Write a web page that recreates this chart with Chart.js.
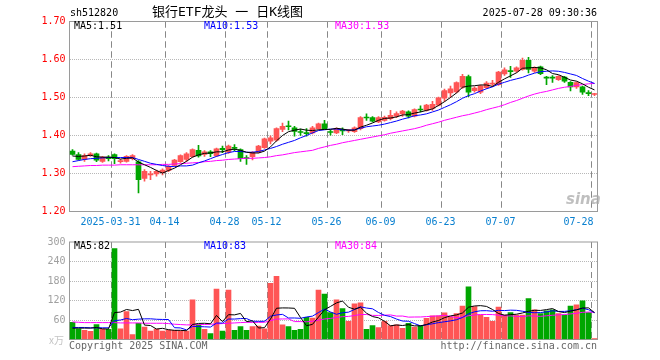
<!DOCTYPE html>
<html><head><meta charset="utf-8">
<script src="https://cdn.jsdelivr.net/npm/chart.js@4.4.1/dist/chart.umd.min.js"></script>
<style>
html,body{margin:0;padding:0;background:#fff;}
#wrap{position:relative;width:660px;height:360px;overflow:hidden;background:#fff;}
.t{position:absolute;white-space:pre;font-family:'DejaVu Sans Mono',monospace;font-size:10px;line-height:10px;}
#pc{position:absolute;left:0;top:0;width:660px;height:232px;}
#vc{position:absolute;left:0;top:232px;width:660px;height:128px;}
</style></head><body>
<div id="wrap">
<canvas id="pc" width="660" height="232"></canvas>
<canvas id="vc" width="660" height="128"></canvas>
<div class="t" style="left:70px;top:8px;color:#000">sh512820</div>
<div class="t" style="left:152px;top:5px;color:#000;font-size:13px;line-height:13px;font-family:'DejaVu Sans Mono','Noto Sans CJK SC',monospace">银行ETF龙头 一 日K线图</div>
<div class="t" style="right:63px;top:8px;color:#000">2025-07-28 09:30:36</div>
<div class="t" style="left:74px;top:21px;color:#000">MA5:1.51</div>
<div class="t" style="left:204px;top:21px;color:#0000ff">MA10:1.53</div>
<div class="t" style="left:335px;top:21px;color:#ff00ff">MA30:1.53</div>
<div class="t" style="left:74px;top:241px;color:#000">MA5:82</div>
<div class="t" style="left:204px;top:241px;color:#0000ff">MA10:83</div>
<div class="t" style="left:335px;top:241px;color:#ff00ff">MA30:84</div>
<div class="t" style="left:49px;top:335px;color:#c4c4c4;font-family:'Noto Sans CJK SC',sans-serif">x万</div>
<div class="t" style="left:69px;top:341px;color:#666">Copyright 2025 SINA.COM</div>
<div class="t" style="right:63px;top:341px;color:#666">http://finance.sina.com.cn</div>
<div class="t" style="left:566px;top:192px;color:rgba(170,170,170,0.75);font-family:'DejaVu Sans',sans-serif;font-size:15px;line-height:15px;font-weight:bold;font-style:italic">sina</div>
</div>
<script>
// ---------- DATA ----------
const dates = [
'2025-03-20','2025-03-21','2025-03-24','2025-03-25','2025-03-26','2025-03-27','2025-03-28','2025-03-31',
'2025-04-01','2025-04-02','2025-04-03','2025-04-07','2025-04-08','2025-04-09','2025-04-10','2025-04-11','2025-04-14','2025-04-15','2025-04-16','2025-04-17','2025-04-18','2025-04-21','2025-04-22','2025-04-23','2025-04-24','2025-04-25','2025-04-28','2025-04-29','2025-04-30',
'2025-05-06','2025-05-07','2025-05-08','2025-05-09','2025-05-12','2025-05-13','2025-05-14','2025-05-15','2025-05-16','2025-05-19','2025-05-20','2025-05-21','2025-05-22','2025-05-23','2025-05-26','2025-05-27','2025-05-28','2025-05-29','2025-05-30',
'2025-06-03','2025-06-04','2025-06-05','2025-06-06','2025-06-09','2025-06-10','2025-06-11','2025-06-12','2025-06-13','2025-06-16','2025-06-17','2025-06-18','2025-06-19','2025-06-20','2025-06-23','2025-06-24','2025-06-25','2025-06-26','2025-06-27','2025-06-30',
'2025-07-01','2025-07-02','2025-07-03','2025-07-04','2025-07-07','2025-07-08','2025-07-09','2025-07-10','2025-07-11','2025-07-14','2025-07-15','2025-07-16','2025-07-17','2025-07-18','2025-07-21','2025-07-22','2025-07-23','2025-07-24','2025-07-25','2025-07-28'];

const openPrice = [1.359,1.350,1.337,1.347,1.352,1.332,1.343,1.350,1.331,1.332,1.339,1.331,1.287,1.296,1.299,1.302,1.308,1.321,1.331,1.337,
1.344,1.361,1.350,1.357,1.346,1.366,1.356,1.369,1.363,1.341,1.344,1.356,1.368,1.385,1.388,1.416,1.425,1.420,1.410,1.407,
1.407,1.418,1.431,1.410,1.407,1.414,1.412,1.410,1.418,1.448,1.447,1.436,1.440,1.444,1.451,1.457,1.462,1.451,1.469,1.466,
1.471,1.480,1.498,1.512,1.515,1.527,1.555,1.518,1.514,1.526,1.535,1.534,1.562,1.570,1.569,1.574,1.598,1.569,1.581,1.553,
1.553,1.547,1.554,1.540,1.528,1.528,1.512,1.508];
const highPrice = [1.363,1.355,1.352,1.355,1.354,1.345,1.347,1.352,1.337,1.347,1.350,1.334,1.310,1.306,1.309,1.312,1.321,1.337,1.349,1.355,
1.365,1.374,1.360,1.360,1.367,1.372,1.375,1.376,1.365,1.347,1.358,1.374,1.393,1.399,1.420,1.433,1.438,1.424,1.417,1.418,
1.424,1.433,1.440,1.414,1.420,1.420,1.416,1.423,1.450,1.457,1.450,1.450,1.451,1.466,1.462,1.466,1.465,1.470,1.478,1.482,
1.490,1.501,1.522,1.530,1.541,1.561,1.559,1.528,1.533,1.542,1.545,1.569,1.578,1.582,1.581,1.604,1.606,1.581,1.583,1.556,
1.558,1.558,1.556,1.542,1.541,1.530,1.518,1.511];
const lowPrice = [1.348,1.335,1.332,1.345,1.331,1.329,1.333,1.326,1.327,1.330,1.336,1.249,1.280,1.284,1.293,1.296,1.305,1.319,1.329,1.332,
1.342,1.343,1.345,1.344,1.344,1.355,1.353,1.360,1.332,1.324,1.336,1.354,1.366,1.378,1.385,1.410,1.415,1.398,1.400,1.398,
1.404,1.416,1.416,1.401,1.405,1.402,1.408,1.408,1.415,1.440,1.436,1.434,1.438,1.441,1.447,1.450,1.446,1.449,1.462,1.464,
1.466,1.478,1.490,1.500,1.512,1.524,1.502,1.514,1.510,1.523,1.530,1.532,1.558,1.553,1.566,1.572,1.565,1.566,1.560,1.534,
1.540,1.545,1.540,1.517,1.524,1.508,1.505,1.505];
const closePrice = [1.350,1.337,1.347,1.352,1.335,1.343,1.339,1.339,1.334,1.345,1.347,1.284,1.306,1.299,1.306,1.309,1.319,1.335,1.347,1.352,
1.363,1.346,1.357,1.352,1.365,1.363,1.372,1.366,1.339,1.339,1.356,1.372,1.391,1.394,1.418,1.424,1.423,1.411,1.408,1.405,
1.420,1.431,1.418,1.408,1.418,1.412,1.412,1.420,1.447,1.446,1.438,1.447,1.448,1.453,1.458,1.464,1.451,1.468,1.467,1.480,
1.482,1.499,1.518,1.523,1.539,1.556,1.514,1.525,1.531,1.538,1.538,1.567,1.573,1.568,1.578,1.598,1.574,1.578,1.563,1.551,
1.551,1.556,1.543,1.528,1.539,1.514,1.510,1.510];

const ma5 = [1.346,1.345,1.346,1.348,1.344,1.343,1.343,1.342,1.338,1.340,1.341,1.330,1.323,1.316,1.308,1.301,1.308,1.314,1.323,1.332,
1.343,1.349,1.353,1.354,1.357,1.357,1.362,1.364,1.361,1.356,1.354,1.354,1.359,1.370,1.386,1.400,1.410,1.414,1.417,1.414,
1.413,1.415,1.416,1.416,1.419,1.417,1.414,1.414,1.422,1.427,1.433,1.440,1.445,1.446,1.449,1.454,1.455,1.459,1.462,1.466,
1.470,1.479,1.489,1.500,1.512,1.527,1.530,1.531,1.533,1.533,1.529,1.540,1.549,1.557,1.565,1.577,1.578,1.579,1.578,1.573,
1.563,1.560,1.553,1.546,1.543,1.536,1.527,1.520];
const ma10 = [1.331,1.334,1.337,1.339,1.340,1.341,1.342,1.342,1.342,1.342,1.342,1.337,1.332,1.327,1.324,1.321,1.319,1.318,1.320,1.320,
1.322,1.328,1.333,1.339,1.345,1.350,1.355,1.358,1.358,1.356,1.356,1.358,1.362,1.366,1.371,1.377,1.382,1.387,1.394,1.400,
1.407,1.413,1.415,1.417,1.417,1.415,1.414,1.415,1.419,1.423,1.425,1.427,1.430,1.434,1.438,1.443,1.447,1.452,1.454,1.457,
1.462,1.467,1.474,1.481,1.489,1.498,1.505,1.510,1.517,1.523,1.528,1.535,1.540,1.545,1.549,1.553,1.559,1.564,1.568,1.569,
1.570,1.569,1.566,1.562,1.558,1.550,1.543,1.537];
const ma30 = [1.318,1.319,1.320,1.321,1.321,1.322,1.322,1.322,1.323,1.323,1.323,1.323,1.323,1.323,1.323,1.324,1.324,1.325,1.326,1.327,
1.328,1.329,1.331,1.332,1.334,1.335,1.337,1.338,1.339,1.340,1.340,1.341,1.342,1.344,1.347,1.349,1.352,1.355,1.357,1.359,
1.361,1.366,1.370,1.374,1.377,1.381,1.384,1.387,1.390,1.393,1.396,1.399,1.402,1.406,1.409,1.412,1.415,1.418,1.422,1.427,
1.431,1.435,1.440,1.444,1.448,1.452,1.455,1.459,1.463,1.468,1.472,1.476,1.481,1.487,1.492,1.498,1.504,1.509,1.513,1.516,
1.520,1.524,1.527,1.529,1.532,1.534,1.536,1.537];

const volume = [53,33,28,25,46,32,31,280,33,86,15,50,38,26,32,26,29,28,26,26,
122,45,31,18,155,26,152,28,40,28,40,41,33,173,194,45,40,28,31,68,
66,152,140,83,122,95,56,110,113,31,43,37,56,43,45,34,50,38,43,65,
73,73,82,70,80,103,162,101,75,68,56,100,75,83,75,75,126,91,80,88,
91,80,75,103,107,119,83,1];
const vma5 = [35,35,35,35,37,32.8,32.4,82.8,84.4,92.4,89,92.8,44.4,43,32.2,34.4,30.2,28.2,28.2,27,
46.2,49.4,50,48.4,74.2,55,76.4,75.8,80.2,54.8,57.6,35.4,36.4,63,96.2,97.2,97,96,67.6,42.4,
46.6,69,91.4,101.8,112.6,118.4,99.2,93.2,99.2,81,70.6,66.8,56,42,44.8,43,45.6,42,42,46,
53.8,58.4,67.2,72.6,75.6,81.6,99.4,103.2,104.2,101.8,92.4,80,74.8,76.4,77.8,81.6,86.8,90,89.4,92,
95.2,86,82.8,87.4,91.2,96.8,97.4,82.6];
const vma10 = [37,37,37,36,36,36,36,58,60,64.7,60.9,62.6,63.6,63.7,62.3,61.7,61.5,36.3,35.6,29.6,
40.3,39.8,39.1,38.3,50.6,50.6,62.9,62.9,64.3,64.5,56.3,55.9,56.1,71.6,75.5,77.4,66.2,66.2,65.3,69.3,
71.9,83,93.7,84.7,77.5,82.5,84.1,92.3,100.5,96.8,94.5,83,74.6,70.6,62.9,56.8,56.2,49,42,45.4,
48.4,52,54.6,57.3,60.8,67.7,78.9,85.2,88.4,88.7,87,89.7,89,90.3,89.8,87,83.4,82.4,82.9,84.9,
88.4,86.4,86.4,88.4,91.6,96,91.7,82.7];
const vma30 = [54,53,52,52,52,52,52,52,51,51,51,51,50,50,50,50,49,47,46,45,
45,46,46,47,48,49,50,51,52,52.9,52.5,52.8,52.9,57.9,62.8,63.2,63.5,55.1,55.1,54.5,
56.2,59.6,63,64.9,67.9,70.2,71.1,73.8,76.7,76.9,74.2,74,74.8,75.6,72,72.2,68.8,69.2,69.3,70.5,
71.6,72.7,74.3,70.9,67.1,69,73.1,75.5,77,77,76.6,74.9,72.7,72.7,71.2,70.5,72.8,72.2,71.1,73,
74.6,76,76.7,78.7,80.7,83.6,84.7,83.4];

const gridDates = ['2025-03-31','2025-04-14','2025-04-28','2025-05-12','2025-05-26','2025-06-09','2025-06-23','2025-07-07','2025-07-28'];
const tickLabels = ['2025-03-31','04-14','04-28','05-12','05-26','06-09','06-23','07-07','07-28'];

// ---------- STYLE / BUILD ----------
const RED = '#ff5555', GREEN = '#00a600', FRAME = '#9a9a9a', VGRID = '#888888', HGRID = '#b8b8b8';
const MONO = 'DejaVu Sans Mono';
const candleColors = closePrice.map((c, i) => c >= openPrice[i] ? RED : GREEN);
const gridIdx = gridDates.map(d => dates.indexOf(d));
const gridSet = new Set(gridIdx);
const labelAt = {};
gridDates.forEach((d, k) => {
  let idx = dates.indexOf(d);
  if (k === gridDates.length - 1) idx -= 2; // last label kept inside the frame
  labelAt[idx] = tickLabels[k];
});

// frame box + dashed vertical date lines, positioned through the x scale
const framePlugin = {
  id: 'framePlugin',
  beforeDatasetsDraw(chart) {
    const ctx = chart.ctx;
    const a = chart.chartArea;
    const xs = chart.scales.x;
    const half = (xs.getPixelForValue(1) - xs.getPixelForValue(0)) / 2;
    ctx.save();
    ctx.lineWidth = 1;
    ctx.strokeStyle = VGRID;
    ctx.setLineDash([6, 4]);
    for (const i of gridIdx) {
      const x = Math.round(xs.getPixelForValue(i) - half - 0.5) + 0.5;
      ctx.beginPath();
      ctx.moveTo(x, a.top);
      ctx.lineTo(x, a.bottom);
      ctx.stroke();
    }
    ctx.setLineDash([]);
    ctx.strokeStyle = FRAME;
    ctx.strokeRect(a.left, a.top, a.right - a.left, a.bottom - a.top);
    ctx.restore();
  }
};

function lineDs(data, color) {
  return { type: 'line', data, borderColor: color, borderWidth: 1, pointRadius: 0, tension: 0, order: 0 };
}

function xScale(showLabels) {
  return {
    type: 'category', offset: true,
    grid: { display: true, offset: true, drawTicks: false, lineWidth: 1,
      color: c => gridSet.has(c.index) ? VGRID : 'rgba(0,0,0,0)' },
    border: { display: false, dash: [6, 4] },
    ticks: { display: showLabels, autoSkip: false, maxRotation: 0, minRotation: 0, padding: 5, labelOffset: -4,
      color: '#0a80d0', font: { family: MONO, size: 10 },
      callback: (v, i) => labelAt[i] || '' },
    afterFit: s => { s.height = 20.5; }
  };
}

function baseOptions(padTop, yScale) {
  return {
    responsive: false, animation: false, events: [],
    plugins: { legend: { display: false }, tooltip: { enabled: false } },
    layout: { padding: { left: 0, right: 62.5, top: padTop, bottom: 0 } },
    scales: { x: xScale(padTop > 10), y: yScale }
  };
}

new Chart(document.getElementById('pc'), {
  type: 'bar',
  data: {
    labels: dates,
    datasets: [
      lineDs(ma5, '#000000'),
      lineDs(ma10, '#0000ff'),
      lineDs(ma30, '#ff00ff'),
      { type: 'bar', data: closePrice.map((c, i) => [openPrice[i], c]), backgroundColor: candleColors,
        barThickness: 5, minBarLength: 1, grouped: false, order: 1 },
      { type: 'bar', data: lowPrice.map((l, i) => [l, highPrice[i]]), backgroundColor: candleColors,
        barThickness: 1, grouped: false, order: 2 }
    ]
  },
  options: baseOptions(21.5, {
    min: 1.2, max: 1.7,
    ticks: { stepSize: 0.1, color: '#ff0000', padding: 4, font: { family: MONO, size: 10 },
      callback: v => Number(v).toFixed(2) },
    grid: { drawTicks: false,
      color: c => (c.tick && (Math.abs(c.tick.value - 1.2) < 1e-6 || Math.abs(c.tick.value - 1.7) < 1e-6)) ? 'rgba(0,0,0,0)' : HGRID },
    border: { display: false, dash: [1, 1] },
    afterFit: s => { s.width = 69.5; }
  }),
  plugins: [framePlugin]
});

new Chart(document.getElementById('vc'), {
  type: 'bar',
  data: {
    labels: dates,
    datasets: [
      lineDs(vma5, '#000000'),
      lineDs(vma10, '#0000ff'),
      lineDs(vma30, '#ff00ff'),
      { type: 'bar', data: volume, backgroundColor: candleColors, barThickness: 5, minBarLength: 1, grouped: false, order: 1 }
    ]
  },
  options: baseOptions(8.5, {
    min: 0, max: 300,
    ticks: { stepSize: 60, color: '#a0a0a0', padding: 4, font: { family: MONO, size: 10 },
      callback: v => v === 0 ? '' : String(v) },
    grid: { drawTicks: false,
      color: c => (c.tick && (c.tick.value === 0 || c.tick.value === 300)) ? 'rgba(0,0,0,0)' : HGRID },
    border: { display: false, dash: [1, 1] },
    afterFit: s => { s.width = 69.5; }
  }),
  plugins: [framePlugin]
});
</script>
</body></html>
